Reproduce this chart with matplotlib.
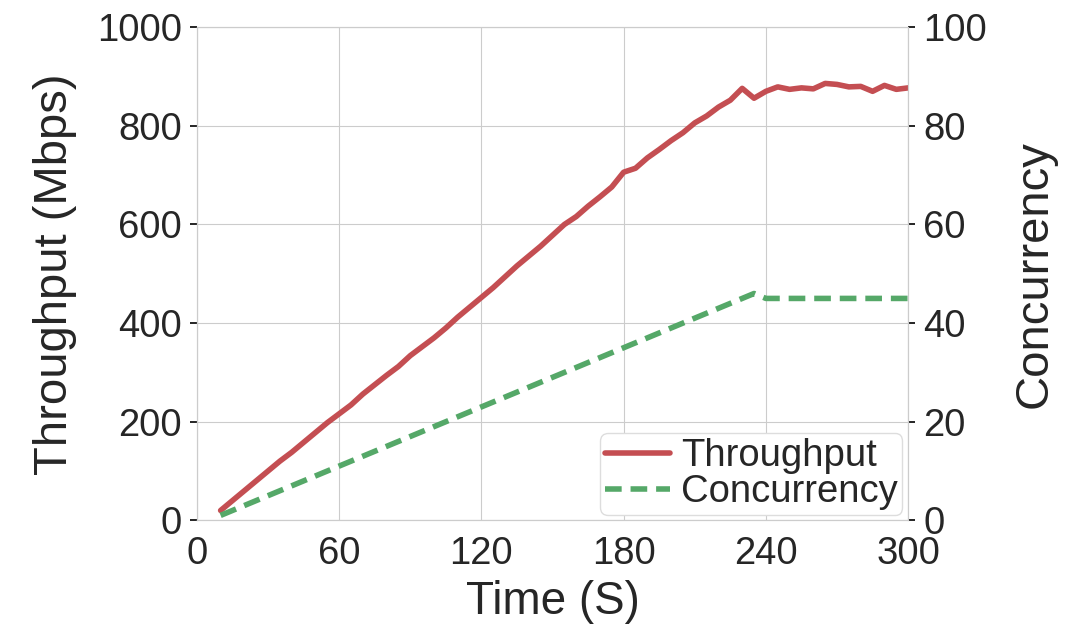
import matplotlib.pyplot as plt
import seaborn as sns

sns.set_style("whitegrid")
plt.rcParams['font.family'] = ['Liberation Sans', 'DejaVu Sans']

# Sample times (s), throughput (Mbps) and concurrency
time_s = list(range(10, 305, 5))
throughput = [20, 40, 60, 80, 100, 120, 138, 158, 178, 198,
              216, 234, 256, 275, 294, 312, 334, 352, 370, 390,
              412, 432, 452, 472, 494, 516, 536, 556, 578, 600,
              616, 637, 656, 676, 706, 714, 735, 752, 770, 786,
              806, 820, 838, 852, 876, 856, 870, 879, 874, 877,
              875, 886, 884, 879, 880, 870, 882, 874, 877]
concurrency = [1, 2, 3, 4, 5, 6, 7, 8, 9, 10,
               11, 12, 13, 14, 15, 16, 17, 18, 19, 20,
               21, 22, 23, 24, 25, 26, 27, 28, 29, 30,
               31, 32, 33, 34, 35, 36, 37, 38, 39, 40,
               41, 42, 43, 44, 45, 46, 45, 45, 45, 45,
               45, 45, 45, 45, 45, 45, 45, 45, 45]

red = '#C44E52'
green = '#55A868'

fig, ax = plt.subplots(figsize=(10.76, 6.33), dpi=100)
fig.subplots_adjust(left=0.183, right=0.844, top=0.957, bottom=0.178)
ax2 = ax.twinx()

l1, = ax.plot(time_s, throughput, color=red, linewidth=4, label='Throughput')
l2, = ax2.plot(time_s, concurrency, color=green, linewidth=4, linestyle='--',
               dashes=(3, 1.6), label='Concurrency')

ax.set_xlim(0, 300)
ax.set_ylim(0, 1000)
ax2.set_ylim(0, 100)
ax.set_xticks([0, 60, 120, 180, 240, 300])
ax.set_yticks([0, 200, 400, 600, 800, 1000])
ax2.set_yticks([0, 20, 40, 60, 80, 100])
ax2.grid(False)

ax.set_xlabel('Time (S)', fontsize=33, color='#262626', labelpad=6)
ax.set_ylabel('Throughput (Mbps)', fontsize=34, color='#262626', labelpad=14)
ax2.set_ylabel('Concurrency', fontsize=34, color='#262626', labelpad=18)

for a in (ax, ax2):
    a.tick_params(labelsize=27.5, colors='#262626', length=5, width=1.2, pad=6)
    a.tick_params(axis='y', color='black')
    for s in a.spines.values():
        s.set_color('#cccccc')

ax.legend(handles=[l1, l2], loc='lower right', fontsize=27.5,
          handlelength=1.7, handletextpad=0.3, borderpad=0.12,
          labelspacing=0.0, borderaxespad=0.15, framealpha=1, edgecolor='#dddddd')

plt.savefig('out.png', dpi=100)
plt.close(fig)
